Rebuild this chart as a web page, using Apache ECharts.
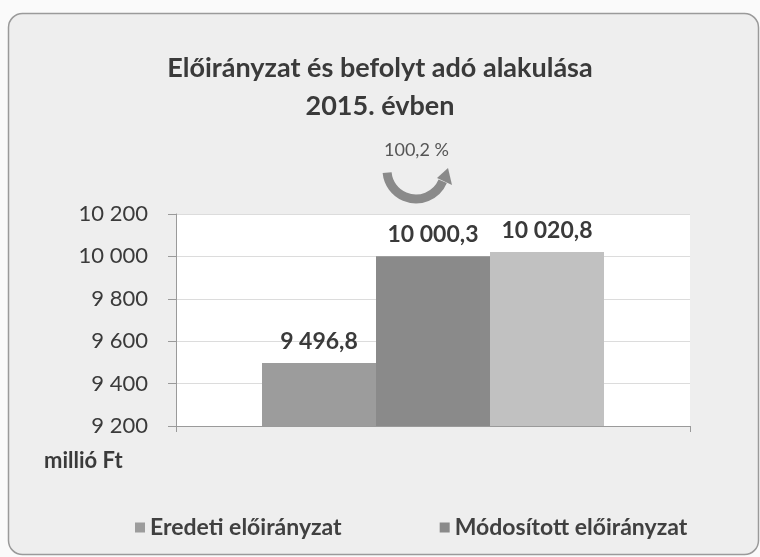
<!DOCTYPE html>
<html>
<head>
<meta charset="utf-8">
<script src="https://cdn.jsdelivr.net/npm/echarts@6/dist/echarts.min.js"></script>
<style>
  html, body { margin: 0; padding: 0; background: #fafafa; }
  #chart { width: 760px; height: 557px; }
</style>
</head>
<body>
<div id="chart"></div>
<script>
var categories = ["2015"];
var seriesNames = ["Eredeti előirányzat", "Módosított előirányzat", "Befolyt adó"];
var values = [9496.8, 10000.3, 10020.8];
var barColors = ["#9c9c9c", "#8a8a8a", "#c1c1c1"];
var yMin = 9200, yMax = 10200, yStep = 200;

var font = "Lato";

// 10020.8 -> "10 020,8"
function huNum(v, dec) {
  var s = v.toFixed(dec).split(".");
  var intPart = s[0].replace(/\B(?=(\d{3})+(?!\d))/g, " ");
  return s.length > 1 ? intPart + "," + s[1] : intPart;
}

var chart = echarts.init(document.getElementById("chart"));

var series = seriesNames.map(function (name, i) {
  var d = categories.map(function () { return values[i]; });
  return {
    name: name,
    type: "bar",
    barWidth: 114,
    barGap: "0%",
    itemStyle: { color: barColors[i] },
    label: {
      show: true,
      position: "top",
      distance: 10,
      fontFamily: font,
      fontWeight: "bold",
      fontSize: 23,
      color: "#3a3a3a",
      formatter: function (p) { return huNum(p.value, 1); }
    },
    data: d
  };
});

chart.setOption({
  backgroundColor: "#fafafa",
  animation: false,
  title: {
    text: "Előirányzat és befolyt adó alakulása\n2015. évben",
    left: "center",
    top: 44,
    textStyle: {
      fontFamily: font,
      fontWeight: "bold",
      fontSize: 27,
      lineHeight: 38,
      color: "#3a3a3a"
    }
  },
  legend: {
    data: seriesNames.slice(0, 2),
    left: 130,
    top: 511,
    icon: "rect",
    itemWidth: 10,
    itemHeight: 10,
    itemGap: 98,
    textStyle: {
      fontFamily: font,
      fontWeight: "bold",
      fontSize: 23,
      color: "#404040"
    }
  },
  grid: {
    left: 176,
    right: 70,
    top: 214,
    bottom: 131,
    show: true,
    backgroundColor: "#ffffff",
    borderWidth: 0
  },
  xAxis: {
    type: "category",
    data: categories,
    axisLine: { lineStyle: { color: "#9a9a9a" } },
    axisTick: { show: true, length: 6, lineStyle: { color: "#9a9a9a" } },
    axisLabel: { show: false }
  },
  yAxis: {
    type: "value",
    min: yMin,
    max: yMax,
    interval: yStep,
    axisLine: { show: true, lineStyle: { color: "#9a9a9a" } },
    axisTick: { show: true, length: 8, lineStyle: { color: "#9a9a9a" } },
    splitLine: { lineStyle: { color: "#dcdcdc" } },
    axisLabel: {
      margin: 28,
      fontFamily: font,
      fontSize: 22,
      color: "#3a3a3a",
      formatter: function (v) { return huNum(v, 0); }
    }
  },
  graphic: [
    {
      type: "rect",
      z: -10,
      shape: { x: 8.5, y: 13.5, width: 750, height: 541, r: 14 },
      style: { fill: "#eeeeee", stroke: "#9a9a9a", lineWidth: 1.5 }
    },
    {
      type: "text",
      left: 44,
      top: 450,
      style: {
        text: "millió Ft",
        font: "bold 22px " + font,
        fill: "#3a3a3a"
      }
    },
    {
      type: "text",
      left: 384,
      top: 141,
      style: {
        text: "100,2 %",
        font: "18px " + font,
        fill: "#555555"
      }
    },
    {
      type: "arc",
      shape: { cx: 416, cy: 170, r: 29, startAngle: 0.4, endAngle: 3.05, clockwise: true },
      style: { stroke: "#8a8a8a", lineWidth: 9, fill: null }
    },
    {
      type: "polygon",
      shape: { points: [[448, 168], [452, 185], [437, 178]] },
      style: { fill: "#8a8a8a" }
    }
  ],
  series: series
});
</script>
</body>
</html>
